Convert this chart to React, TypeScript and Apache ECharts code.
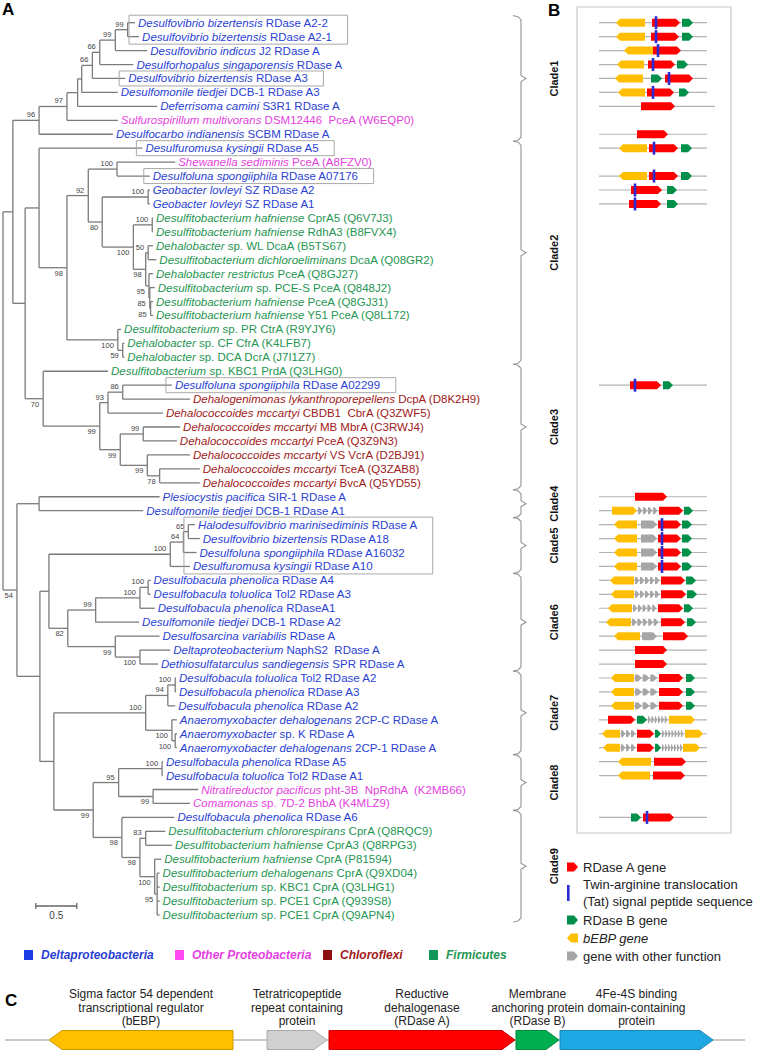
import React, { useEffect, useRef } from "react";
import * as echarts from "echarts";

const FONT = "'Liberation Sans', Arial, Helvetica, sans-serif";
const LF = 11.5;

// ---------- Panel A: leaves (top to bottom) ----------
const LEAF_SPECIES = [
  "Desulfovibrio bizertensis", "Desulfovibrio bizertensis", "Desulfovibrio indicus", "Desulforhopalus singaporensis",
  "Desulfovibrio bizertensis", "Desulfomonile tiedjei", "Deferrisoma camini", "Sulfurospirillum multivorans",
  "Desulfocarbo indianensis", "Desulfuromusa kysingii", "Shewanella sediminis", "Desulfoluna spongiiphila",
  "Geobacter lovleyi", "Geobacter lovleyi", "Desulfitobacterium hafniense", "Desulfitobacterium hafniense",
  "Dehalobacter", "Desulfitobacterium dichloroeliminans", "Dehalobacter restrictus", "Desulfitobacterium",
  "Desulfitobacterium hafniense", "Desulfitobacterium hafniense", "Desulfitobacterium", "Dehalobacter",
  "Dehalobacter", "Desulfitobacterium", "Desulfoluna spongiiphila", "Dehalogenimonas lykanthroporepellens",
  "Dehalococcoides mccartyi", "Dehalococcoides mccartyi", "Dehalococcoides mccartyi", "Dehalococcoides mccartyi",
  "Dehalococcoides mccartyi", "Dehalococcoides mccartyi", "Plesiocystis pacifica", "Desulfomonile tiedjei",
  "Halodesulfovibrio marinisediminis", "Desulfovibrio bizertensis", "Desulfoluna spongiiphila", "Desulfuromusa kysingii",
  "Desulfobacula phenolica", "Desulfobacula toluolica", "Desulfobacula phenolica", "Desulfomonile tiedjei",
  "Desulfosarcina variabilis", "Deltaproteobacterium", "Dethiosulfatarculus sandiegensis", "Desulfobacula toluolica",
  "Desulfobacula phenolica", "Desulfobacula phenolica", "Anaeromyxobacter dehalogenans", "Anaeromyxobacter",
  "Anaeromyxobacter dehalogenans", "Desulfobacula phenolica", "Desulfobacula toluolica", "Nitratireductor pacificus",
  "Comamonas", "Desulfobacula phenolica", "Desulfitobacterium chlororespirans", "Desulfitobacterium hafniense",
  "Desulfitobacterium hafniense", "Desulfitobacterium dehalogenans", "Desulfitobacterium", "Desulfitobacterium",
  "Desulfitobacterium",
];
const LEAF_DETAIL = [
  "RDase A2-2", "RDase A2-1", "J2 RDase A", "RDase A",
  "RDase A3", "DCB-1 RDase A3", "S3R1 RDase A", "DSM12446  PceA (W6EQP0)",
  "SCBM RDase A", "RDase A5", "PceA (A8FZV0)", "RDase A07176",
  "SZ RDase A2", "SZ RDase A1", "CprA5 (Q6V7J3)", "RdhA3 (B8FVX4)",
  "sp. WL DcaA (B5TS67)", "DcaA (Q08GR2)", "PceA (Q8GJ27)", "sp. PCE-S PceA (Q848J2)",
  "PceA (Q8GJ31)", "Y51 PceA (Q8L172)", "sp. PR CtrA (R9YJY6)", "sp. CF CfrA (K4LFB7)",
  "sp. DCA DcrA (J7I1Z7)", "sp. KBC1 PrdA (Q3LHG0)", "RDase A02299", "DcpA (D8K2H9)",
  "CBDB1  CbrA (Q3ZWF5)", "MB MbrA (C3RWJ4)", "PceA (Q3Z9N3)", "VS VcrA (D2BJ91)",
  "TceA (Q3ZAB8)", "BvcA (Q5YD55)", "SIR-1 RDase A", "DCB-1 RDase A1",
  "RDase A", "RDase A18", "RDase A16032", "RDase A10",
  "RDase A4", "Tol2 RDase A3", "RDaseA1", "DCB-1 RDase A2",
  "RDase A", "NaphS2  RDase A", "SPR RDase A", "Tol2 RDase A2",
  "RDase A3", "RDase A2", "2CP-C RDase A", "sp. K RDase A",
  "2CP-1 RDase A", "RDase A5", "Tol2 RDase A1", "pht-3B  NpRdhA  (K2MB66)",
  "sp. 7D-2 BhbA (K4MLZ9)", "RDase A6", "CprA (Q8RQC9)", "CprA3 (Q8RPG3)",
  "CprA (P81594)", "CprA (Q9XD04)", "sp. KBC1 CprA (Q3LHG1)", "sp. PCE1 CprA (Q939S8)",
  "sp. PCE1 CprA (Q9APN4)",
];
// D = Deltaproteobacteria, P = other Proteobacteria, C = Chloroflexi, F = Firmicutes
const LEAF_PHYLUM = [
  "D", "D", "D", "D", "D", "D", "D", "P", "D", "D", "P", "D", "D", "D", "F", "F",
  "F", "F", "F", "F", "F", "F", "F", "F", "F", "F", "D", "C", "C", "C", "C", "C",
  "C", "C", "D", "D", "D", "D", "D", "D", "D", "D", "D", "D", "D", "D", "D", "D",
  "D", "D", "D", "D", "D", "D", "D", "P", "P", "D", "F", "F", "F", "F", "F", "F", "F",
];
// distance from root (substitutions per site) of each tip
const LEAF_DEPTH = [
  1.61, 1.66, 1.76, 1.59, 1.49, 1.40, 1.88, 1.40, 1.34, 1.70, 2.10, 1.79, 1.79, 1.79, 1.83, 1.83,
  1.83, 1.87, 1.83, 1.85, 1.83, 1.83, 1.44, 1.48, 1.48, 1.28, 2.06, 2.28, 1.95, 2.16, 2.12, 2.28,
  2.40, 2.40, 1.91, 1.71, 2.34, 2.40, 2.36, 2.28, 1.80, 1.80, 1.85, 1.66, 1.91, 2.04, 1.89, 2.11,
  2.11, 2.10, 2.12, 2.12, 2.12, 1.95, 1.95, 2.38, 2.28, 2.09, 1.98, 2.06, 1.93, 1.91, 1.91, 1.91, 1.91,
];

// internal node: depth from root, bootstrap support, children (leaf indices or nodes)
const N = (d: number, s: number | null, c: any[]) => ({ d, s, c });
const TREE = N(0, null, [
  N(0.12, null, [
    N(0.44, 96, [
      N(0.78, 97, [
        N(0.91, null, [
          N(0.96, null, [
            N(1.09, 66, [
              N(1.18, 66, [N(1.37, 99, [N(1.52, 99, [0, 1]), 2]), 3]),
              4,
            ]),
            5,
          ]),
          6,
        ]),
        7,
      ]),
      8,
    ]),
    N(0.27, null, [
      N(0.44, null, [
        9,
        N(0.78, 98, [
          N(1.04, 92, [
            N(1.39, 100, [10, 11]),
            N(1.21, 80, [
              N(1.77, 100, [12, 13]),
              N(1.59, 100, [
                N(1.82, 100, [14, 15]),
                N(1.74, 98, [
                  N(1.77, 50, [16, 17]),
                  N(1.78, 95, [18, N(1.79, 85, [19, N(1.8, 85, [20, 21])])]),
                ]),
              ]),
            ]),
          ]),
          N(1.4, 100, [22, N(1.46, 59, [23, 24])]),
        ]),
      ]),
      N(0.49, 70, [
        25,
        N(1.18, 99, [
          N(1.28, 93, [N(1.46, 86, [26, 27]), 28]),
          N(1.43, 99, [N(1.71, 99, [29, 30]), N(1.76, 99, [31, N(1.91, 78, [32, 33])])]),
        ]),
      ]),
    ]),
  ]),
  N(0.17, 54, [
    N(0.44, null, [34, 35]),
    N(0.45, null, [
      N(0.56, null, [
        N(2.04, 100, [N(2.2, 64, [N(2.26, 65, [36, 37]), 38]), 39]),
        N(0.79, 82, [
          N(1.13, 99, [N(1.67, 100, [N(1.77, 100, [40, 41]), 42]), 43]),
          N(1.37, 99, [44, N(1.67, 100, [45, 46])]),
        ]),
      ]),
      N(0.62, null, [
        N(1.74, 100, [
          N(2.01, 94, [N(2.1, 100, [47, 48]), 49]),
          N(2.06, 100, [50, N(2.1, 100, [51, 52])]),
        ]),
        N(1.1, 99, [
          N(1.41, 95, [N(1.94, 100, [53, 54]), N(1.83, 99, [55, 56])]),
          N(1.45, 98, [
            57,
            N(1.67, 98, [N(1.74, 83, [58, 59]), N(1.85, 100, [60, N(1.88, 95, [61, 62, 63, 64])])]),
          ]),
        ]),
      ]),
    ]),
  ]),
]);

const BOXED_FIRST = [0, 4, 9, 11, 26, 36];
const BOXED_LAST = [1, 4, 9, 11, 26, 39];

const CLADE_NAMES = ["Clade1", "Clade2", "Clade3", "Clade4", "Clade5", "Clade6", "Clade7", "Clade8", "Clade9"];
const CLADE_FIRST = [0, 9, 25, 34, 36, 40, 47, 53, 57];
const CLADE_LAST = [8, 24, 33, 35, 39, 46, 52, 56, 64];

const SCALE_START = 0.4;
const SCALE_LEN = 0.5;

const PHYLA = ["D", "P", "C", "F"];
const PHYLA_NAMES = ["Deltaproteobacteria", "Other Proteobacteria", "Chloroflexi", "Firmicutes"];
const PHYLA_TEXT = { D: "#2a3fd4", P: "#e43fe0", C: "#a01a1a", F: "#1f9652" } as any;
const PHYLA_SWATCH = { D: "#1c3de6", P: "#ff4af2", C: "#8c1010", F: "#11975a" } as any;

// ---------- Panel B: gene neighbourhoods (leaf, type, start, end, direction, count) ----------
// A = RDase A, B = RDase B, E = bEBP, O = other, C = run of small other-function genes
const TRACKS = [
  [0, 0, 108], [1, 0, 108], [2, 0, 108], [3, 0, 108], [4, 0, 108], [5, 0, 108], [6, 0, 116], [8, 0, 108],
  [9, 0, 108], [11, 0, 108], [12, 0, 108], [13, 0, 108], [26, 0, 108], [34, 0, 108], [35, 0, 108], [36, 0, 108],
  [37, 0, 108], [38, 0, 108], [39, 0, 108], [40, 0, 108], [41, 0, 108], [42, 0, 108], [43, 0, 108], [44, 0, 108],
  [45, 0, 108], [46, 0, 108], [47, 0, 108], [48, 0, 108], [49, 0, 108], [50, 0, 108], [51, 0, 108], [52, 0, 108],
  [53, 0, 108], [54, 0, 108], [57, 0, 108],
];
const GENES: any[] = [
  [0, "E", 17, 46, -1], [0, "A", 53, 81, 1], [0, "B", 83, 94, 1],
  [1, "E", 17, 46, -1], [1, "A", 52, 80, 1], [1, "B", 83, 94, 1],
  [2, "E", 25, 54, -1], [2, "A", 54, 82, 1],
  [3, "E", 18, 45, -1], [3, "A", 49, 76, 1], [3, "B", 78, 89, 1],
  [4, "E", 16, 44, -1], [4, "B", 52, 63, 1], [4, "A", 66, 94, 1],
  [5, "E", 19, 46, -1], [5, "A", 48, 75, 1], [5, "B", 80, 90, 1],
  [6, "A", 42, 76, 1],
  [8, "A", 38, 69, 1],
  [9, "E", 20, 48, -1], [9, "A", 50, 79, 1], [9, "B", 82, 93, 1],
  [11, "E", 20, 48, -1], [11, "A", 50, 79, 1], [11, "B", 82, 93, 1],
  [12, "A", 32, 63, 1], [12, "B", 68, 78, 1],
  [13, "A", 30, 62, 1], [13, "B", 68, 79, 1],
  [26, "A", 31, 62, 1], [26, "B", 64, 74, 1],
  [34, "A", 36, 68, 1],
  [35, "E", 13, 38, 1], [35, "C", 39, 59, 1, 4], [35, "A", 60, 84, 1], [35, "B", 85, 94, 1],
  [36, "E", 15, 38, -1], [36, "O", 42, 58, 1], [36, "A", 59, 82, 1], [36, "B", 83, 93, 1],
  [37, "E", 15, 38, -1], [37, "O", 42, 58, 1], [37, "A", 59, 82, 1], [37, "B", 83, 93, 1],
  [38, "E", 15, 38, -1], [38, "O", 42, 58, 1], [38, "A", 59, 82, 1], [38, "B", 83, 93, 1],
  [39, "E", 15, 38, -1], [39, "O", 42, 58, 1], [39, "A", 59, 82, 1], [39, "B", 83, 93, 1],
  [40, "E", 11, 35, -1], [40, "C", 36, 61, 1, 5], [40, "A", 62, 86, 1], [40, "B", 87, 97, 1],
  [41, "E", 12, 35, -1], [41, "C", 36, 61, 1, 5], [41, "A", 62, 87, 1], [41, "B", 88, 98, 1],
  [42, "E", 9, 33, -1], [42, "C", 34, 58, 1, 5], [42, "A", 59, 84, 1], [42, "B", 85, 94, 1],
  [43, "E", 7, 32, -1], [43, "C", 33, 60, 1, 5], [43, "A", 62, 86, 1], [43, "B", 88, 97, 1],
  [44, "E", 15, 41, -1], [44, "O", 43, 58, 1], [44, "A", 64, 89, 1],
  [45, "A", 36, 68, 1],
  [46, "A", 36, 68, 1],
  [47, "E", 12, 35, -1], [47, "C", 36, 59, 1, 3], [47, "A", 60, 84, 1], [47, "B", 87, 96, 1],
  [48, "E", 12, 35, -1], [48, "C", 36, 59, 1, 3], [48, "A", 60, 84, 1], [48, "B", 87, 96, 1],
  [49, "E", 12, 35, -1], [49, "C", 36, 59, 1, 3], [49, "A", 60, 84, 1], [49, "B", 87, 96, 1],
  [50, "A", 9, 36, 1], [50, "B", 38, 48, 1], [50, "C", 49, 69, 1, 6], [50, "E", 70, 96, 1],
  [51, "E", 3, 21, -1], [51, "C", 22, 37, 1, 3], [51, "A", 38, 55, 1], [51, "B", 56, 62, 1], [51, "C", 63, 85, 1, 7], [51, "E", 86, 104, 1],
  [52, "E", 4, 21, -1], [52, "C", 22, 37, 1, 3], [52, "A", 38, 55, 1], [52, "B", 56, 62, 1], [52, "C", 63, 84, 1, 7], [52, "E", 84, 101, 1],
  [53, "E", 19, 52, -1], [53, "A", 55, 87, 1],
  [54, "E", 19, 51, -1], [54, "A", 54, 86, 1],
  [57, "B", 32, 42, 1], [57, "A", 44, 75, 1],
];
// twin-arginine signal peptide marks: [leaf, position]
const TAT = [
  [0, 57], [1, 57], [2, 59], [3, 54], [4, 70], [5, 54], [9, 55], [11, 55], [12, 36], [13, 36], [26, 36],
  [36, 63], [37, 63], [38, 63], [39, 63], [57, 48],
];
const GENE_FILL = { A: "#ff0000", B: "#00904a", E: "#ffbf00", O: "#a6a6a6", C: "#a6a6a6" } as any;

const GENE_LEGEND_TYPES = ["A", "T", "B", "E", "O"];
const GENE_LEGEND_TEXT = [
  "RDase A gene",
  "Twin-arginine translocation\n(Tat) signal peptide sequence",
  "RDase B gene",
  "bEBP gene",
  "gene with other function",
];

// ---------- Panel C ----------
const C_TYPES = ["E", "O", "A", "B", "F"];
const C_START = [44, 262, 324, 511, 555];
const C_END = [228, 322, 510, 554, 708];
const C_DIR = [-1, 1, 1, 1, 1];
const C_LABELS = [
  "Sigma factor 54 dependent\ntranscriptional regulator\n(bEBP)",
  "Tetratricopeptide\nrepeat containing\nprotein",
  "Reductive\ndehalogenase\n(RDase A)",
  "Membrane\nanchoring protein\n(RDase B)",
  "4Fe-4S binding\ndomain-containing\nprotein",
];
const C_FILL = { E: "#ffc000", O: "#d0d0d0", A: "#ff0000", B: "#00b050", F: "#1ea8e4" } as any;
const C_STROKE = { E: "#c99700", O: "#a9a9a9", A: "#c80000", B: "#008a3c", F: "#1a86b8" } as any;

// ---------- helpers ----------
let measureCtx: any = null;
function textWidth(s: string, font: string) {
  if (!measureCtx) measureCtx = document.createElement("canvas").getContext("2d");
  measureCtx.font = font;
  return measureCtx.measureText(s).width;
}

function arrowPts(x0: number, x1: number, y: number, h: number, tip: number, dir: number) {
  const t = Math.min(tip, (x1 - x0) * 0.6);
  if (dir > 0)
    return [[x0, y - h / 2], [x1 - t, y - h / 2], [x1, y], [x1 - t, y + h / 2], [x0, y + h / 2]];
  return [[x1, y - h / 2], [x0 + t, y - h / 2], [x0, y], [x0 + t, y + h / 2], [x1, y + h / 2]];
}

function buildOption() {
  const segs: number[][] = [];
  const boots: number[][] = [];
  const walk = (n: any): { y: number; d: number } => {
    if (typeof n === "number") return { y: n, d: LEAF_DEPTH[n] };
    const kids = n.c.map(walk);
    const y = (kids[0].y + kids[kids.length - 1].y) / 2;
    segs.push([n.d, kids[0].y, n.d, kids[kids.length - 1].y]);
    kids.forEach((k: any, i: number) => {
      segs.push([n.d, k.y, k.d, k.y]);
      const c = n.c[i];
      if (typeof c !== "number" && c.s != null) boots.push([c.d, k.y, c.s, i === 0 ? 1 : 0]);
    });
    return { y, d: n.d };
  };
  walk(TREE);

  const leafW = LEAF_SPECIES.map(
    (s, i) => textWidth(s, `italic ${LF}px ${FONT}`) + textWidth(" " + LEAF_DETAIL[i], `${LF}px ${FONT}`)
  );

  const series: any[] = [];
  // tree branches
  series.push({
    type: "custom", xAxisIndex: 0, yAxisIndex: 0, silent: true, clip: false, data: segs,
    renderItem: (_p: any, api: any) => {
      const a = api.coord([api.value(0), api.value(1)]);
      const b = api.coord([api.value(2), api.value(3)]);
      return { type: "line", shape: { x1: a[0], y1: a[1], x2: b[0], y2: b[1] }, style: { stroke: "#7b7b7b", lineWidth: 1.3 } };
    },
  });
  // bootstrap values
  series.push({
    type: "custom", xAxisIndex: 0, yAxisIndex: 0, silent: true, clip: false, data: boots,
    renderItem: (_p: any, api: any) => {
      const pt = api.coord([api.value(0), api.value(1)]);
      const up = api.value(3) === 1;
      return {
        type: "text", x: pt[0] - 4, y: up ? pt[1] - 1.5 : pt[1] + 1.5,
        style: { text: String(api.value(2)), fontSize: 7.5, fontFamily: FONT, fill: "#444", align: "right", verticalAlign: up ? "bottom" : "top" },
      };
    },
  });
  // leaf labels
  series.push({
    type: "custom", xAxisIndex: 0, yAxisIndex: 0, silent: true, clip: false,
    data: LEAF_DEPTH.map((d, i) => [d, i]),
    renderItem: (p: any, api: any) => {
      const i = p.dataIndex;
      const pt = api.coord([LEAF_DEPTH[i], i]);
      const col = PHYLA_TEXT[LEAF_PHYLUM[i]];
      return {
        type: "text", x: pt[0] + 3, y: pt[1],
        style: {
          text: `{i|${LEAF_SPECIES[i]}}{n| ${LEAF_DETAIL[i]}}`,
          rich: {
            i: { fontStyle: "italic", fontSize: LF, fontFamily: FONT, fill: col },
            n: { fontSize: LF, fontFamily: FONT, fill: col },
          },
          fill: col, fontSize: LF, fontFamily: FONT, align: "left", verticalAlign: "middle",
        },
      };
    },
  });
  // boxes
  series.push({
    type: "custom", xAxisIndex: 0, yAxisIndex: 0, silent: true, clip: false,
    data: BOXED_FIRST.map((f, i) => [0, f, BOXED_LAST[i]]),
    renderItem: (p: any, api: any) => {
      const f = BOXED_FIRST[p.dataIndex], l = BOXED_LAST[p.dataIndex];
      let minX = Infinity, maxX = -Infinity;
      for (let i = f; i <= l; i++) {
        const pt = api.coord([LEAF_DEPTH[i], i]);
        minX = Math.min(minX, pt[0]);
        maxX = Math.max(maxX, pt[0] + 3 + leafW[i]);
      }
      const top = api.coord([0, f])[1] - 7.5;
      const bot = api.coord([0, l])[1] + 7.5;
      return {
        type: "rect", shape: { x: minX - 6, y: top, width: maxX + 15 - (minX - 6), height: bot - top },
        style: { fill: "none", stroke: "#a9a9a9", lineWidth: 1 },
      };
    },
  });
  // clade braces
  series.push({
    type: "custom", xAxisIndex: 0, yAxisIndex: 0, silent: true, clip: false,
    data: CLADE_FIRST.map((f, i) => [0, f, CLADE_LAST[i]]),
    renderItem: (p: any, api: any) => {
      const i = p.dataIndex;
      const top = api.coord([0, CLADE_FIRST[i]])[1] - 7;
      const bot = api.coord([0, CLADE_LAST[i]])[1] + 7;
      const mid = (top + bot) / 2;
      const x0 = 513, x1 = 521;
      return {
        type: "group",
        children: [
          {
            type: "polyline",
            shape: {
              points: [
                [x0, top], [x1 - 3, top + 1], [x1, top + 4], [x1, mid - 3], [x1 + 5, mid],
                [x1, mid + 3], [x1, bot - 4], [x1 - 3, bot - 1], [x0, bot],
              ],
            },
            style: { fill: "none", stroke: "#9b9b9b", lineWidth: 1.2 },
          },
          {
            type: "text", x: 554, y: mid, rotation: Math.PI / 2,
            style: { text: CLADE_NAMES[i], fontSize: 11, fontWeight: "bold", fontFamily: FONT, fill: "#111", align: "center", verticalAlign: "middle" },
          },
        ],
      };
    },
  });
  // scale bar
  series.push({
    type: "custom", xAxisIndex: 0, yAxisIndex: 0, silent: true, clip: false,
    data: [[SCALE_START, SCALE_START + SCALE_LEN]],
    renderItem: (_p: any, api: any) => {
      const a = api.coord([api.value(0), 0])[0];
      const b = api.coord([api.value(1), 0])[0];
      const y = 906;
      return {
        type: "group",
        children: [
          { type: "line", shape: { x1: a, y1: y, x2: b, y2: y }, style: { stroke: "#666", lineWidth: 1.3 } },
          { type: "line", shape: { x1: a, y1: y - 3, x2: a, y2: y + 3 }, style: { stroke: "#666", lineWidth: 1.3 } },
          { type: "line", shape: { x1: b, y1: y - 3, x2: b, y2: y + 3 }, style: { stroke: "#666", lineWidth: 1.3 } },
          { type: "text", x: (a + b) / 2, y: y + 4, style: { text: String(SCALE_LEN), fontSize: 10, fontFamily: FONT, fill: "#444", align: "center", verticalAlign: "top" } },
        ],
      };
    },
  });
  // gene tracks
  series.push({
    type: "custom", xAxisIndex: 1, yAxisIndex: 1, silent: true, clip: false,
    data: TRACKS.map((t) => [t[1], t[0], t[2]]),
    renderItem: (p: any, api: any) => {
      const t = TRACKS[p.dataIndex];
      const a = api.coord([t[1], t[0]]);
      const b = api.coord([t[2], t[0]]);
      return { type: "line", shape: { x1: a[0], y1: a[1], x2: b[0], y2: b[1] }, style: { stroke: "#b3b3b3", lineWidth: 1.2 } };
    },
  });
  // genes
  series.push({
    type: "custom", xAxisIndex: 1, yAxisIndex: 1, silent: true, clip: false,
    data: GENES.map((g) => [g[2], g[0]]),
    renderItem: (p: any, api: any) => {
      const g = GENES[p.dataIndex];
      const a = api.coord([g[2], g[0]]);
      const b = api.coord([g[3], g[0]]);
      const fill = GENE_FILL[g[1]];
      if (g[1] === "C") {
        const n = g[5];
        const w = (b[0] - a[0]) / n;
        const children = [];
        for (let k = 0; k < n; k++) {
          const s = a[0] + k * w;
          children.push({ type: "polygon", shape: { points: arrowPts(s, s + w - 0.8, a[1], 7, w * 0.5, g[4]) }, style: { fill } });
        }
        return { type: "group", children };
      }
      return { type: "polygon", shape: { points: arrowPts(a[0], b[0], a[1], 8, 4, g[4]) }, style: { fill } };
    },
  });
  // tat marks
  series.push({
    type: "custom", xAxisIndex: 1, yAxisIndex: 1, silent: true, clip: false,
    data: TAT.map((t) => [t[1], t[0]]),
    renderItem: (p: any, api: any) => {
      const t = TAT[p.dataIndex];
      const pt = api.coord([t[1], t[0]]);
      return { type: "rect", shape: { x: pt[0] - 1.3, y: pt[1] - 6.5, width: 2.6, height: 13 }, style: { fill: "#2b2bd6" } };
    },
  });
  // panel C
  series.push({
    type: "custom", xAxisIndex: 2, yAxisIndex: 2, silent: true, clip: false,
    data: [[0, 0.5, 740]],
    renderItem: (_p: any, api: any) => {
      const a = api.coord([api.value(0), api.value(1)]);
      const b = api.coord([api.value(2), api.value(1)]);
      return { type: "line", shape: { x1: a[0], y1: a[1], x2: b[0], y2: b[1] }, style: { stroke: "#b8b8b8", lineWidth: 1.5 } };
    },
  });
  series.push({
    type: "custom", xAxisIndex: 2, yAxisIndex: 2, silent: true, clip: false,
    data: C_START.map((s) => [s, 0.5]),
    renderItem: (p: any, api: any) => {
      const i = p.dataIndex;
      const a = api.coord([C_START[i], 0.5]);
      const b = api.coord([C_END[i], 0.5]);
      const t = C_TYPES[i];
      return {
        type: "group",
        children: [
          { type: "polygon", shape: { points: arrowPts(a[0], b[0], a[1], 19, 13, C_DIR[i]) }, style: { fill: C_FILL[t], stroke: C_STROKE[t], lineWidth: 1 } },
          {
            type: "text", x: (a[0] + b[0]) / 2, y: a[1] - 12,
            style: { text: C_LABELS[i], fontSize: 12, lineHeight: 13.5, fontFamily: FONT, fill: "#222", align: "center", verticalAlign: "bottom" },
          },
        ],
      };
    },
  });

  // static graphics: panel letters, panel B frame, legends
  const graphic: any[] = [
    { type: "text", x: 2, y: 1, style: { text: "A", font: `bold 17px ${FONT}`, fill: "#000" } },
    { type: "text", x: 548, y: 2, style: { text: "B", font: `bold 17px ${FONT}`, fill: "#000" } },
    { type: "text", x: 5, y: 992, style: { text: "C", font: `bold 17px ${FONT}`, fill: "#000" } },
    { type: "rect", shape: { x: 577, y: 7, width: 154, height: 826 }, style: { fill: "none", stroke: "#c8c8c8", lineWidth: 1.2 } },
  ];
  const legY = [867, 893, 920, 938, 956];
  GENE_LEGEND_TYPES.forEach((t, i) => {
    const y = legY[i];
    if (t === "T") {
      graphic.push({ type: "rect", shape: { x: 567, y: y - 8, width: 2.6, height: 16 }, style: { fill: "#2b2bd6" } });
    } else {
      graphic.push({ type: "polygon", shape: { points: arrowPts(567, 578, y, 9, 4, t === "E" ? -1 : 1) }, style: { fill: GENE_FILL[t] } });
    }
    graphic.push({
      type: "text", x: 583, y,
      style: {
        text: GENE_LEGEND_TEXT[i], font: `${t === "E" ? "italic " : ""}13px ${FONT}`, lineHeight: 17,
        fill: "#222", verticalAlign: "middle", align: "left",
      },
    });
  });
  const phyX = [24, 175, 323, 429];
  PHYLA.forEach((p, i) => {
    graphic.push({ type: "rect", shape: { x: phyX[i], y: 950, width: 9, height: 10 }, style: { fill: PHYLA_SWATCH[p] } });
    graphic.push({
      type: "text", x: phyX[i] + 17, y: 955,
      style: { text: PHYLA_NAMES[i], font: `italic bold 12px ${FONT}`, fill: PHYLA_TEXT[p], verticalAlign: "middle" },
    });
  });

  return {
    animation: false,
    backgroundColor: "#ffffff",
    grid: [
      { left: 3, top: 22.7, width: 492, height: 892.3 },
      { left: 599, top: 22.7, width: 108, height: 892.3 },
      { left: 5, top: 1030, width: 740, height: 20 },
    ],
    xAxis: [
      { type: "value", gridIndex: 0, min: 0, max: 6, show: false },
      { type: "value", gridIndex: 1, min: 0, max: 108, show: false },
      { type: "value", gridIndex: 2, min: 0, max: 740, show: false },
    ],
    yAxis: [
      { type: "value", gridIndex: 0, min: 0, max: 64, inverse: true, show: false },
      { type: "value", gridIndex: 1, min: 0, max: 64, inverse: true, show: false },
      { type: "value", gridIndex: 2, min: 0, max: 1, show: false },
    ],
    series,
    graphic,
  };
}

export default function App() {
  const ref = useRef<HTMLDivElement>(null);
  useEffect(() => {
    const chart = echarts.init(ref.current as HTMLDivElement, null, { renderer: "svg" });
    chart.setOption(buildOption() as any);
    return () => chart.dispose();
  }, []);
  return (
    <div
      ref={ref}
      style={{ position: "fixed", left: 0, top: 0, width: 758, height: 1050, background: "#fff" }}
    />
  );
}
